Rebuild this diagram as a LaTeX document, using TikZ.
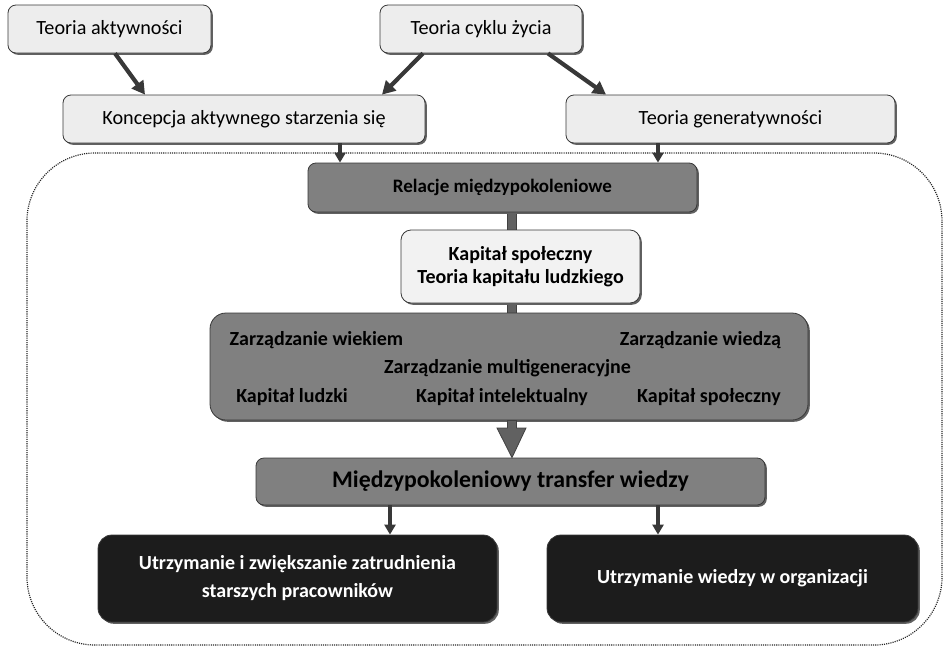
\documentclass[tikz,border=0pt]{standalone}
\usepackage{fontspec}
\setmainfont{Carlito}
\usetikzlibrary{shadows,calc,arrows.meta}
\tikzset{
  box/.style={draw=black!78, line width=0.8pt, rounded corners=8pt, align=center, inner sep=0pt,
    general shadow={fill=black!62, shadow xshift=1.8pt, shadow yshift=-1.8pt}},
  lightbox/.style={box, fill=black!7, font=\fontsize{20.2}{23}\selectfont},
  graybox/.style={box, fill=black!50, font=\bfseries\fontsize{19}{22}\selectfont},
  blackbox/.style={box, rounded corners=14pt, fill=black!89, text=white, font=\bfseries\fontsize{20}{28}\selectfont},
  lbl/.style={inner sep=0pt, font=\bfseries\fontsize{20}{22}\selectfont},
  bigarrow/.style={draw=black!78, line width=4.2pt, -{Triangle[length=13pt,width=14pt]}},
  downarrow/.style={draw=black!78, line width=3.6pt, -{Triangle[length=10pt,width=11pt]}},
  bar/.style={draw=black!75, line width=0.8pt, fill=black!62},
  frame/.style={draw=black!85, line width=1.2pt, dash pattern=on 1.1pt off 1.1pt, rounded corners=68pt}
}
\begin{document}
\begin{tikzpicture}[x=1pt,y=-1pt]
\useasboundingbox (0,0) rectangle (943,646);
% dotted frame
\draw[frame] (27,153) rectangle (942,645);
% top layer
\node[lightbox, minimum width=203pt, minimum height=48pt] (ta) at (109.5,29) {Teoria aktywności};
\node[lightbox, minimum width=202pt, minimum height=48pt] (tc) at (481,29) {Teoria cyklu życia};
\node[lightbox, minimum width=362pt, minimum height=48pt] (ka) at (244,119) {Koncepcja aktywnego starzenia się};
\node[lightbox, minimum width=329pt, minimum height=48pt] (tg) at (730.5,119) {Teoria generatywności};
% vertical bar (behind boxes)
\fill[bar] (507.5,205) rectangle (516.5,320);
% inner boxes
\node[graybox, minimum width=389pt, minimum height=49pt] (rel) at (502.5,187.5) {Relacje międzypokoleniowe};
\node[box, fill=black!5, font=\bfseries\fontsize{20}{22.5}\selectfont, rounded corners=10pt, minimum width=239pt, minimum height=73pt] (kap) at (520.5,266.5) {Kapitał społeczny\\Teoria kapitału ludzkiego};
\node[graybox, rounded corners=16pt, minimum width=598pt, minimum height=107pt] (big) at (509,366.5) {};
\node[lbl] (zw) at (316.5,340) {Zarządzanie wiekiem};
\node[lbl] (zd) at (700.5,340) {Zarządzanie wiedzą};
\node[lbl] (zm) at (507.5,368) {Zarządzanie multigeneracyjne};
\node[lbl] (kl) at (292,397) {Kapitał ludzki};
\node[lbl] (ki) at (502,397) {Kapitał intelektualny};
\node[lbl] (ks) at (709,397) {Kapitał społeczny};
\node[graybox, font=\bfseries\fontsize{23.8}{26}\selectfont, minimum width=509pt, minimum height=47pt] (mt) at (510.5,481.5) {Międzypokoleniowy transfer wiedzy};
\node[blackbox, minimum width=399pt, minimum height=87pt] (bl) at (297.5,578.5) {Utrzymanie i zwiększanie zatrudnienia\\starszych pracowników};
\node[blackbox, minimum width=371pt, minimum height=87pt] (br) at (732.5,578.5) {\raisebox{5pt}{Utrzymanie wiedzy w organizacji}};
% arrows top
\draw[bigarrow] ([xshift=5.5pt]ta.south) -- ([xshift=-99pt]ka.north);
\draw[bigarrow] ([xshift=-58pt]tc.south) -- ([xshift=138pt]ka.north);
\draw[bigarrow] ([xshift=67pt]tc.south) -- ([xshift=-124.5pt]tg.north);
\draw[downarrow] ([xshift=96pt]ka.south) -- ([xshift=96pt]ka.south |- rel.north);
\draw[downarrow] ([xshift=-72.5pt]tg.south) -- ([xshift=-72.5pt]tg.south |- rel.north);
% big triangle arrow
\filldraw[bar, line join=miter] (507.5,420.5) -- (507.5,428) -- (497,428) -- ([xshift=1.5pt]mt.north) -- (526,428) -- (516.5,428) -- (516.5,420.5) -- cycle;
% bottom arrows
\draw[downarrow] ([xshift=-120.5pt]mt.south) -- ([xshift=-120.5pt]mt.south |- bl.north);
\draw[downarrow] ([xshift=147.5pt]mt.south) -- ([xshift=147.5pt]mt.south |- br.north);
\end{tikzpicture}
\end{document}
